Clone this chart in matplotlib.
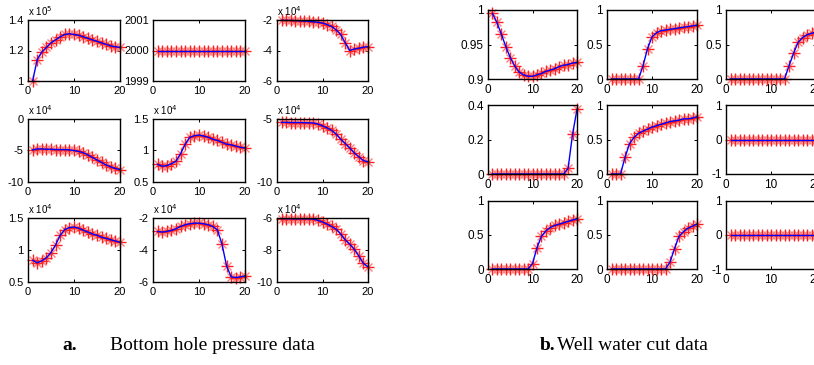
import numpy as np
import matplotlib
matplotlib.use("Agg")
import matplotlib.pyplot as plt

# time steps shared by every panel
steps = np.arange(1, 21)

# --- bottom hole pressure (values in units of the panel exponent) ---
bhp_series = [
    [1.00, 1.14, 1.19, 1.22, 1.25, 1.27, 1.29, 1.305, 1.31, 1.305,
     1.30, 1.29, 1.28, 1.27, 1.26, 1.25, 1.24, 1.23, 1.225, 1.22],
    [2000] * 20,
    [-2.02, -2.03, -2.03, -2.04, -2.05, -2.07, -2.09, -2.12, -2.15, -2.2,
     -2.3, -2.42, -2.65, -2.95, -3.5, -4.0, -3.9, -3.85, -3.78, -3.75],
    [-4.9, -4.75, -4.75, -4.8, -4.8, -4.85, -4.85, -4.85, -4.9, -5.0,
     -5.15, -5.35, -5.7, -6.1, -6.5, -6.9, -7.3, -7.6, -7.85, -8.05],
    [0.78, 0.75, 0.76, 0.79, 0.83, 0.95, 1.10, 1.21, 1.235, 1.245,
     1.23, 1.21, 1.18, 1.16, 1.13, 1.10, 1.09, 1.07, 1.05, 1.04],
    [-5.27, -5.27, -5.28, -5.28, -5.28, -5.29, -5.3, -5.32, -5.4, -5.55,
     -5.7, -5.9, -6.2, -6.6, -6.95, -7.3, -7.7, -8.0, -8.3, -8.4],
    [0.84, 0.80, 0.83, 0.88, 0.96, 1.08, 1.23, 1.32, 1.35, 1.36,
     1.34, 1.31, 1.28, 1.25, 1.23, 1.20, 1.18, 1.16, 1.14, 1.12],
    [-2.84, -2.88, -2.84, -2.78, -2.67, -2.53, -2.42, -2.36, -2.32, -2.32,
     -2.36, -2.42, -2.53, -2.74, -3.64, -5.0, -5.68, -5.72, -5.68, -5.62],
    [-6.04, -6.04, -6.04, -6.05, -6.05, -6.05, -6.05, -6.06, -6.15, -6.25,
     -6.38, -6.53, -6.7, -7.0, -7.37, -7.64, -7.96, -8.38, -8.84, -9.05],
]
bhp_ylims = [(1, 1.4), (1999, 2001), (-6, -2), (-10, 0), (0.5, 1.5),
             (-10, -5), (0.5, 1.5), (-6, -2), (-10, -6)]
bhp_yticks = [[1, 1.2, 1.4], [1999, 2000, 2001], [-6, -4, -2], [-10, -5, 0],
              [0.5, 1, 1.5], [-10, -5], [0.5, 1, 1.5], [-6, -4, -2], [-10, -8, -6]]
bhp_yticklabels = [["1", "1.2", "1.4"], ["1999", "2000", "2001"], ["-6", "-4", "-2"],
                   ["-10", "-5", "0"], ["0.5", "1", "1.5"], ["-10", "-5"],
                   ["0.5", "1", "1.5"], ["-6", "-4", "-2"], ["-10", "-8", "-6"]]
bhp_exponent = [5, None, 4, 4, 4, 4, 4, 4, 4]

# --- well water cut ---
wct_series = [
    [0.995, 0.982, 0.965, 0.947, 0.931, 0.919, 0.910, 0.906, 0.904, 0.904,
     0.906, 0.908, 0.911, 0.913, 0.915, 0.918, 0.920, 0.921, 0.923, 0.924],
    [0, 0, 0, 0, 0, 0, 0, 0.19, 0.44, 0.61,
     0.67, 0.70, 0.71, 0.72, 0.73, 0.74, 0.75, 0.76, 0.77, 0.78],
    [0, 0, 0, 0, 0, 0, 0, 0, 0, 0,
     0, 0, 0, 0.19, 0.37, 0.53, 0.60, 0.64, 0.66, 0.68],
    [0, 0, 0, 0, 0, 0, 0, 0, 0, 0,
     0, 0, 0, 0, 0, 0, 0, 0.033, 0.23, 0.375],
    [0, 0, 0, 0.24, 0.44, 0.53, 0.59, 0.62, 0.65, 0.68,
     0.70, 0.72, 0.74, 0.76, 0.77, 0.78, 0.80, 0.80, 0.81, 0.83],
    [0] * 20,
    [0, 0, 0, 0, 0, 0, 0, 0, 0, 0.08,
     0.31, 0.48, 0.56, 0.61, 0.64, 0.66, 0.68, 0.70, 0.72, 0.74],
    [0, 0, 0, 0, 0, 0, 0, 0, 0, 0,
     0, 0, 0, 0.10, 0.30, 0.48, 0.55, 0.60, 0.63, 0.66],
    [0] * 20,
]
wct_ylims = [(0.9, 1), (0, 1), (0, 1), (0, 0.4), (0, 1), (-1, 1),
             (0, 1), (0, 1), (-1, 1)]
wct_yticks = [[0.9, 0.95, 1], [0, 0.5, 1], [0, 0.5, 1], [0, 0.2, 0.4],
              [0, 0.5, 1], [-1, 0, 1], [0, 0.5, 1], [0, 0.5, 1], [-1, 0, 1]]
wct_yticklabels = [["0.9", "0.95", "1"], ["0", "0.5", "1"], ["0", "0.5", "1"],
                   ["0", "0.2", "0.4"], ["0", "0.5", "1"], ["-1", "0", "1"],
                   ["0", "0.5", "1"], ["0", "0.5", "1"], ["-1", "0", "1"]]

W, H = 814, 365
fig = plt.figure(figsize=(W / 100, H / 100), dpi=100)
plt.rcParams['font.family'] = ['Liberation Sans', 'DejaVu Sans']


def px_axes(x0, x1, y0, y1):
    return fig.add_axes([x0 / W, 1 - y1 / H, (x1 - x0) / W, (y1 - y0) / H])


def style(ax, ylim, yticks, ylabels, fs):
    ax.set_xlim(0, 20)
    ax.set_ylim(*ylim)
    ax.set_xticks([0, 10, 20])
    ax.set_xticklabels(["0", "10", "20"])
    ax.set_yticks(yticks)
    ax.set_yticklabels(ylabels)
    ax.tick_params(direction='in', top=True, right=True, length=2.5, width=0.7,
                   labelsize=fs)
    ax.tick_params(axis='x', pad=3.5)
    ax.tick_params(axis='y', pad=3)
    for sp in ax.spines.values():
        sp.set_linewidth(1.0)


def draw(ax, y):
    # asterisk-like observation markers: soft diagonals plus a sharper cross
    ax.plot(steps, y, linestyle='none', marker='x', color='#ff8080',
            markersize=6, markeredgewidth=1.0, clip_on=False)
    ax.plot(steps, y, linestyle='none', marker='+', color='#ff2020',
            markersize=8, markeredgewidth=1.0, clip_on=False)
    ax.plot(steps, y, color='#0000ff', linewidth=1.0, clip_on=False)


left_cols = [(28, 120), (153, 245), (277, 368)]
left_rows = [(20, 81), (119, 182), (218, 282)]
for i in range(9):
    r, c = divmod(i, 3)
    ax = px_axes(*left_cols[c], *left_rows[r])
    draw(ax, bhp_series[i])
    style(ax, bhp_ylims[i], bhp_yticks[i], bhp_yticklabels[i], 8)
    if bhp_exponent[i] is not None:
        ax.text(0, 1.03, r'x 10$^{%d}$' % bhp_exponent[i], transform=ax.transAxes,
                fontsize=7, ha='left', va='bottom')

right_cols = [(488, 577), (607, 697), (726, 816)]
right_rows = [(10, 79), (105, 174), (201, 269)]
for i in range(9):
    r, c = divmod(i, 3)
    ax = px_axes(*right_cols[c], *right_rows[r])
    draw(ax, wct_series[i])
    style(ax, wct_ylims[i], wct_yticks[i], wct_yticklabels[i], 8.5)

# captions
cap_y = 1 - 346 / H
serif = ['Liberation Serif', 'DejaVu Serif']
fig.text(62 / W, cap_y, "a.", fontsize=14, fontweight='bold', family=serif, va='center')
fig.text(110 / W, cap_y, "Bottom hole pressure data", fontsize=14, family=serif, va='center')
fig.text(540 / W, cap_y, "b.", fontsize=14, fontweight='bold', family=serif, va='center')
fig.text(557 / W, cap_y, "Well water cut data", fontsize=14, family=serif, va='center')

fig.savefig("out.png", dpi=100)
